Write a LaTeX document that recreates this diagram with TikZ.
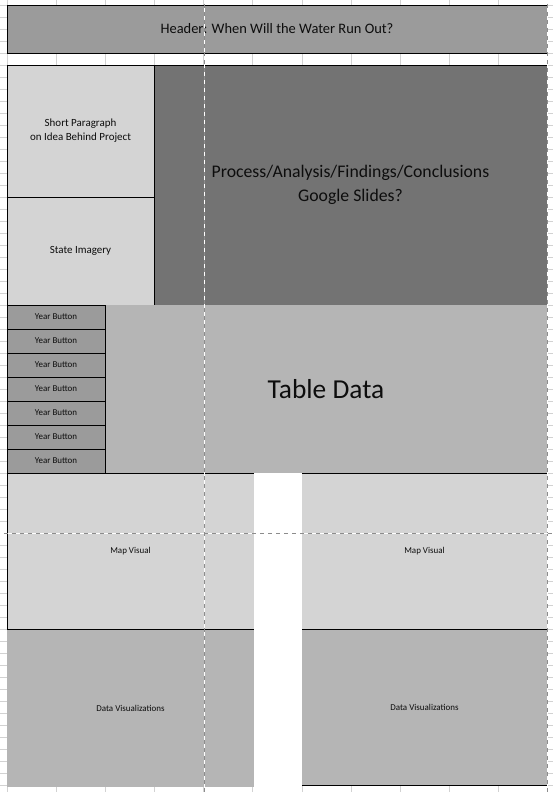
\documentclass[tikz,border=0pt]{standalone}
\usepackage{fontspec}
\setmainfont{Carlito}
\definecolor{hdrgray}{HTML}{9B9B9B}
\definecolor{lightcell}{HTML}{D4D4D4}
\definecolor{darkcell}{HTML}{737373}
\definecolor{midcell}{HTML}{B5B5B5}
\definecolor{gridgray}{HTML}{D2D2D2}
\definecolor{brkgray}{HTML}{8C8C8C}
\tikzset{
  cell/.style={rectangle,inner sep=0pt,outer sep=0pt,anchor=north west,align=center,text=black!95,line width=0.9bp},
  tiny/.style={font=\fontsize{9}{11}\selectfont},
  small/.style={font=\fontsize{11}{14}\selectfont},
}
\def\brkline#1#2{%
    \draw [white,line width=0.9bp,dash pattern=on 4bp off 4bp] #1 -- #2;
    \draw [brkgray,line width=0.9bp,dash pattern=on 4bp off 4bp,dash phase=4bp] #1 -- #2;
}
\begin{document}
\begin{tikzpicture}[x=1bp,y=-1bp]
\useasboundingbox (0,0) rectangle (553,792);
%grid
\foreach \r in {0,...,65}
  \draw[gridgray,line width=0.6bp] (0,5+12*\r) -- (553,5+12*\r);
\foreach \c in {0,...,11}
  \draw[gridgray,line width=0.6bp] (7+49.15*\c,0) -- (7+49.15*\c,792);
%header
\node[cell,fill=hdrgray,draw=black,minimum width=540bp,minimum height=48bp,
  font=\fontsize{14.5}{17}\selectfont] (header) at (7,5) {Header: When Will the Water Run Out?};
%intro
\node[cell,fill=darkcell,draw=black,minimum width=393bp,minimum height=240bp,
  font=\fontsize{17.8}{24}\selectfont] (process) at (154,65) {Process/Analysis/Findings/Conclusions\\Google Slides?};
\node[cell,small,fill=lightcell,draw=black,minimum width=147bp,minimum height=132bp] (para) at (7,65) {Short Paragraph\\on Idea Behind Project};
\node[cell,small,fill=lightcell,draw=black,minimum width=147bp,minimum height=108bp] (state) at (7,197) {State Imagery};
%table
\node[cell,fill=midcell,minimum width=442bp,minimum height=168bp,
  font=\fontsize{27.5}{30}\selectfont] (table) at (105,305) {Table Data};
\foreach \i in {0,...,6}
{
\node[cell,tiny,fill=hdrgray,draw=black,minimum width=98bp,minimum height=24bp] (btn\i) at (7,305+24*\i) {Year Button};
}
%maps
\fill[white] (254,473) rectangle (302,792);
\node[cell,tiny,fill=lightcell,minimum width=247bp,minimum height=156bp] (mapL) at (7,473) {Map Visual};
\node[cell,tiny,fill=lightcell,minimum width=245bp,minimum height=156bp] (mapR) at (302,473) {Map Visual};
%visualizations
\node[cell,tiny,fill=midcell,minimum width=247bp,minimum height=158bp] (vizL) at (7,629) {Data Visualizations};
\node[cell,tiny,fill=midcell,minimum width=245bp,minimum height=156bp] (vizR) at (302,629) {Data Visualizations};
\draw[line width=0.9bp] (mapL.south west) -- (mapL.north west) -- (mapL.north east);
\draw[line width=0.9bp] (mapL.south west) -- (mapL.south east);
\draw[line width=0.9bp] (mapR.north west) -- (mapR.north east);
\draw[line width=0.9bp] (mapR.south west) -- (mapR.south east);
\draw[line width=0.9bp] (vizR.south west) -- (vizR.south east);
%page breaks
\brkline{(204,0)}{(204,792)}
\brkline{(547,0)}{(547,792)}
\brkline{(0,533)}{(553,533)}
\end{tikzpicture}
\end{document}
